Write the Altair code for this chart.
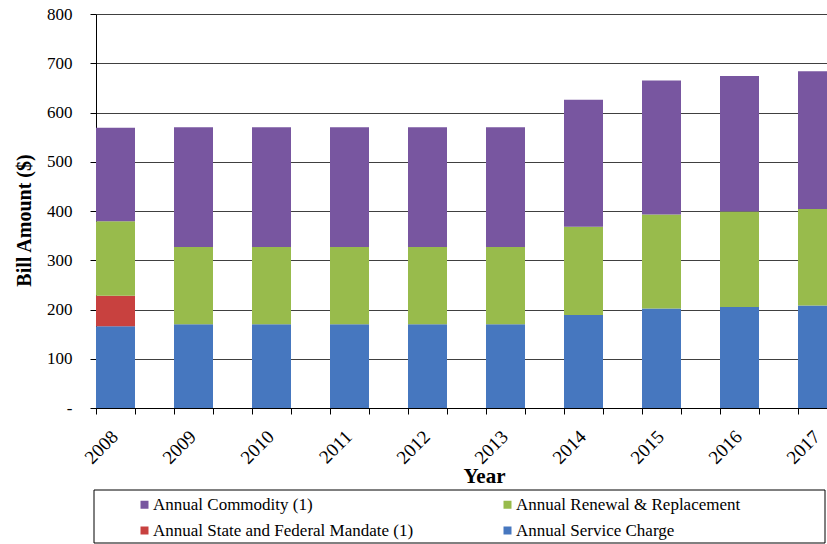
import altair as alt
import pandas as pd

# ---- data ----
years = ["2008", "2009", "2010", "2011", "2012", "2013", "2014", "2015", "2016", "2017"]
service_charge = [166, 170, 170, 170, 170, 170, 189, 202, 205, 208]
state_federal_mandate = [62, 0, 0, 0, 0, 0, 0, 0, 0, 0]
renewal_replacement = [151, 157, 157, 157, 157, 157, 179, 191, 194, 196]
commodity = [190, 243, 243, 243, 243, 243, 258, 272, 275, 280]

# legend order (column-major: first column, then second column)
series_names = [
    "Annual Commodity (1)",
    "Annual State and Federal Mandate (1)",
    "Annual Renewal & Replacement",
    "Annual Service Charge",
]
series_colors = ["#7856A0", "#C8413F", "#98BB4C", "#4677BF"]
y_ticks = [0, 100, 200, 300, 400, 500, 600, 700, 800]

# stacking order bottom -> top
stack_series = [
    ("Annual Service Charge", service_charge),
    ("Annual State and Federal Mandate (1)", state_federal_mandate),
    ("Annual Renewal & Replacement", renewal_replacement),
    ("Annual Commodity (1)", commodity),
]

rows = []
for i, yr in enumerate(years):
    for rank, (name, vals) in enumerate(stack_series):
        rows.append({"Year": yr, "Component": name, "Amount": vals[i], "rank": rank})
df = pd.DataFrame(rows)

FONT = "Liberation Serif"
W, H = 731, 394

xscale = alt.Scale(domain=years, range=[0, 741], paddingInner=0.5, paddingOuter=0)
yscale = alt.Scale(domain=[0, 800], nice=False)

bars = alt.Chart(df).mark_bar(clip=True).encode(
    x=alt.X(
        "Year:N", sort=years, scale=xscale,
        axis=alt.Axis(
            title="Year", titleFont=FONT, titleFontSize=21, titleFontWeight="bold",
            titleColor="black", titleX=388, titleY=74, titleAlign="center",
            titleBaseline="alphabetic",
            labelAngle=-45, labelFont=FONT, labelFontSize=19, labelColor="black",
            labelPadding=13, labelOffset=12, tickOffset=-19.5, tickSize=6,
            tickColor="black", domainColor="black", grid=False,
        ),
    ),
    y=alt.Y(
        "Amount:Q", stack="zero", scale=yscale,
        axis=alt.Axis(
            title="Bill Amount ($)", values=y_ticks,
            labelExpr="datum.value == 0 ? '-' : datum.label",
            labelFont=FONT, labelFontSize=17, labelColor="black", labelPadding=18,
            tickSize=6, tickColor="black", domainColor="black",
            grid=True, gridColor="#404040", gridWidth=1,
            titleFont=FONT, titleFontSize=20, titleFontWeight="bold", titleColor="black",
            titleX=-72, titleY=206, titleAngle=-90, titleAlign="center",
            titleBaseline="middle",
        ),
    ),
    color=alt.Color(
        "Component:N",
        scale=alt.Scale(domain=series_names, range=series_colors),
        legend=alt.Legend(
            title=None, orient="none", legendX=40, legendY=482, columns=2,
            columnPadding=85, rowPadding=8, symbolType="square", symbolSize=64,
            symbolStrokeWidth=0, labelFont=FONT, labelFontSize=17, labelColor="black",
            labelOffset=0, padding=0, labelLimit=400,
        ),
    ),
    order=alt.Order("rank:Q", sort="ascending"),
)

# second set of ticks at the right edge of each bar
edge_ticks = alt.Chart(df).mark_bar(opacity=0).encode(
    x=alt.X(
        "Year:N", sort=years, scale=xscale,
        axis=alt.Axis(
            orient="bottom", title=None, labels=False, domain=False, grid=False,
            tickOffset=19.5, tickSize=6, tickColor="black",
        ),
    ),
    y=alt.Y("Amount:Q", stack="zero", scale=yscale, axis=None),
)

# legend frame
legend_box = alt.Chart(alt.Data(values=[{}])).mark_rect(
    fill="transparent", stroke="black", strokeWidth=1
).encode(
    x=alt.value(-2), x2=alt.value(729), y=alt.value(476), y2=alt.value(529)
)

chart = alt.layer(bars, edge_ticks, legend_box).resolve_axis(
    x="independent", y="independent"
).properties(
    width=W, height=H,
    autosize=alt.AutoSizeParams(type="none"),
    padding={"left": 96, "top": 14, "right": 0, "bottom": 136},
    background="white",
).configure_view(stroke=None)

chart.save("out.html", embed_options={"renderer": "svg", "actions": False})
